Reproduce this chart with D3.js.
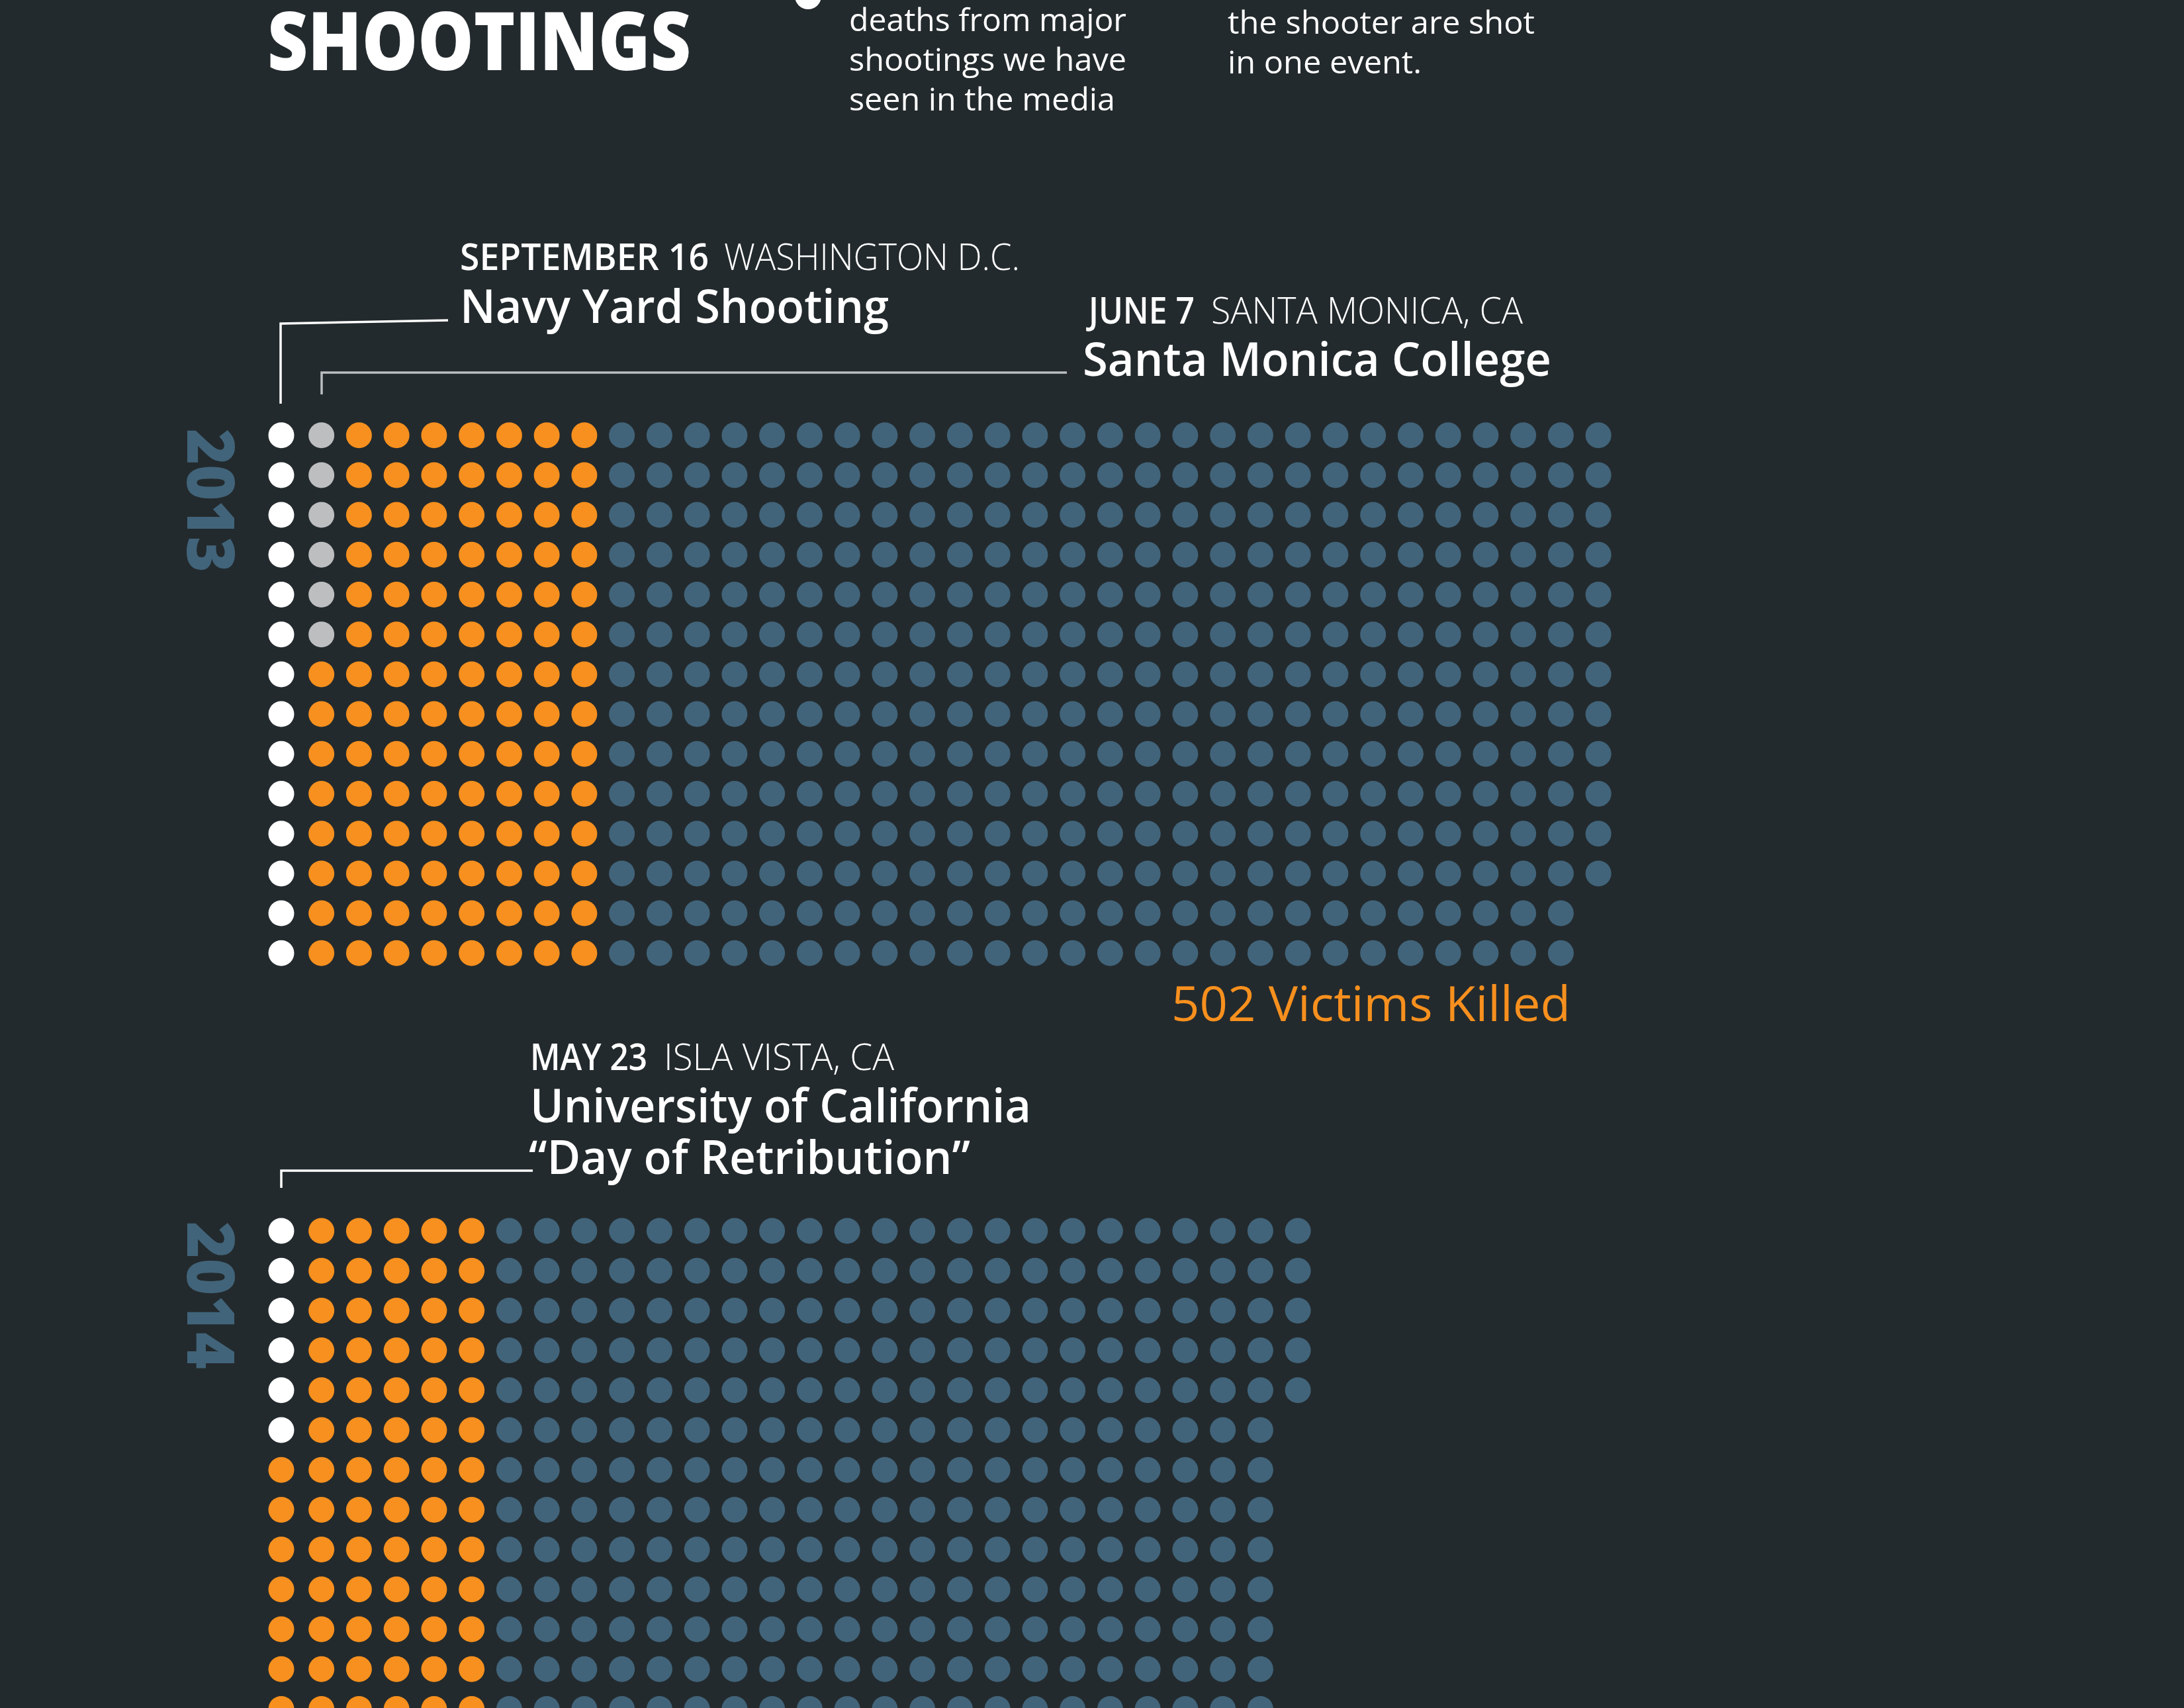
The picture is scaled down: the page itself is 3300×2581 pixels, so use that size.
<!DOCTYPE html>
<html>
<head>
<meta charset="utf-8">
<script src="https://cdnjs.cloudflare.com/ajax/libs/d3/7.8.5/d3.min.js"></script>
<style>
	body { margin: 0; background: #232a2d; overflow: hidden; }
	text { font-family: "Open Sans", "Noto Sans", sans-serif; }
</style>
</head>
<body>
<div id="chart"></div>
<script>
'use strict';

// dot groups, in the order they fill the grid (column by column)
var categories = ["shooterEvent", "secondEvent", "mediaShootings", "otherShootings"];
var counts2013 = [14, 6, 106, 376];
var counts2014 = [6, 0, 78, 299];
var years = ["2013", "2014"];
var rowsPerColumn = 14;
var killedLabel = "502 Victims Killed";

var legendLines1 = ["deaths from major", "shootings we have", "seen in the media"];
var legendLines2 = ["the shooter are shot", "in one event."];

var W = 3300, H = 2581;
var svg = d3.select("#chart").append("svg")
	.attr("width", W)
	.attr("height", H);

svg.append("rect").attr("width", W).attr("height", H).attr("fill", "#232a2d");

var color = d3.scaleOrdinal()
	.domain(categories)
	.range(["#ffffff", "#bcbec0", "#f7901e", "#41647a"]);

function fitText(sel, x, y, str, size, weight, len, fill){
	return sel.append("text")
		.attr("x", x)
		.attr("y", y)
		.attr("font-size", size)
		.attr("font-weight", weight)
		.attr("fill", fill || "#fff")
		.attr("textLength", len)
		.attr("lengthAdjust", "spacingAndGlyphs")
		.text(str);
}

function buildDots(counts){
	var dots = [];
	counts.forEach(function(c, k){
		for(var i = 0; i < c; i++){
			dots.push({cat: categories[k]});
		}
	});
	dots.forEach(function(d, i){
		d.col = Math.floor(i / rowsPerColumn);
		d.row = i % rowsPerColumn;
	});
	return dots;
}

function drawGrid(counts, top, year){
	var dots = buildDots(counts);
	var nCols = d3.max(dots, function(d){return d.col;}) + 1;
	var x = d3.scaleLinear().domain([0, 1]).range([425, 425 + 56.75]);
	var y = d3.scaleLinear().domain([0, rowsPerColumn - 1]).range([top, top + (rowsPerColumn - 1) * 60.2]);
	var g = svg.append("g").attr("class", "grid-" + year);
	g.selectAll(".dot")
		.data(dots)
		.enter().append("circle")
		.attr("class", "dot")
		.attr("cx", function(d){return x(d.col) + (d.col > 0 ? 3.9 : 0);})
		.attr("cy", function(d){return y(d.row);})
		.attr("r", 19.5)
		.attr("fill", function(d){return color(d.cat);});
	return {x: x, y: y, nCols: nCols};
}

// header
fitText(svg, 404, 106, "SHOOTINGS", 123, 800, 640);
svg.append("circle").attr("cx", 1221).attr("cy", -6).attr("r", 20).attr("fill", "#fff");
var lw1 = [419, 419, 402];
legendLines1.forEach(function(t, i){
	fitText(svg, 1283, 47 + i * 60, t, 48, 500, lw1[i]);
});
var lw2 = [464, 293];
legendLines2.forEach(function(t, i){
	fitText(svg, 1855, 51 + i * 60, t, 48, 500, lw2[i]);
});

// 2013
var g13 = drawGrid(counts2013, 657.7, years[0]);
svg.append("text")
	.attr("transform", "translate(283,648) rotate(90)")
	.attr("font-size", 100)
	.attr("font-weight", 800)
	.attr("fill", "#41647a")
	.attr("textLength", 217)
	.attr("lengthAdjust", "spacingAndGlyphs")
	.text(years[0]);

fitText(svg, 695, 408, "SEPTEMBER 16", 56, 600, 376);
fitText(svg, 1094, 408, "WASHINGTON D.C.", 56, 300, 447);
fitText(svg, 695, 488, "Navy Yard Shooting", 71, 600, 648);
svg.append("polyline")
	.attr("points", "424,610 424,489 677,484")
	.attr("fill", "none").attr("stroke", "#fff").attr("stroke-width", 3.5);

fitText(svg, 1645, 489, "JUNE 7", 56, 600, 160);
fitText(svg, 1830, 489, "SANTA MONICA, CA", 56, 300, 471);
fitText(svg, 1636, 568, "Santa Monica College", 71, 600, 708);
svg.append("polyline")
	.attr("points", "486,596 486,563 1612,563")
	.attr("fill", "none").attr("stroke", "#bcbec0").attr("stroke-width", 3.5);

fitText(svg, 1770, 1543, killedLabel, 74, 400, 603, "#f7901e");

// 2014
var g14 = drawGrid(counts2014, 1860, years[1]);
svg.append("text")
	.attr("transform", "translate(283,1846) rotate(90)")
	.attr("font-size", 100)
	.attr("font-weight", 800)
	.attr("fill", "#41647a")
	.attr("textLength", 223)
	.attr("lengthAdjust", "spacingAndGlyphs")
	.text(years[1]);

fitText(svg, 801, 1617, "MAY 23", 56, 600, 177);
fitText(svg, 1003, 1617, "ISLA VISTA, CA", 56, 300, 348);
fitText(svg, 801, 1696, "University of California", 71, 600, 757);
fitText(svg, 799, 1774, "\u201cDay of Retribution\u201d", 71, 600, 667);
svg.append("polyline")
	.attr("points", "425,1795 425,1769 805,1769")
	.attr("fill", "none").attr("stroke", "#fff").attr("stroke-width", 3.5);
</script>
</body>
</html>
